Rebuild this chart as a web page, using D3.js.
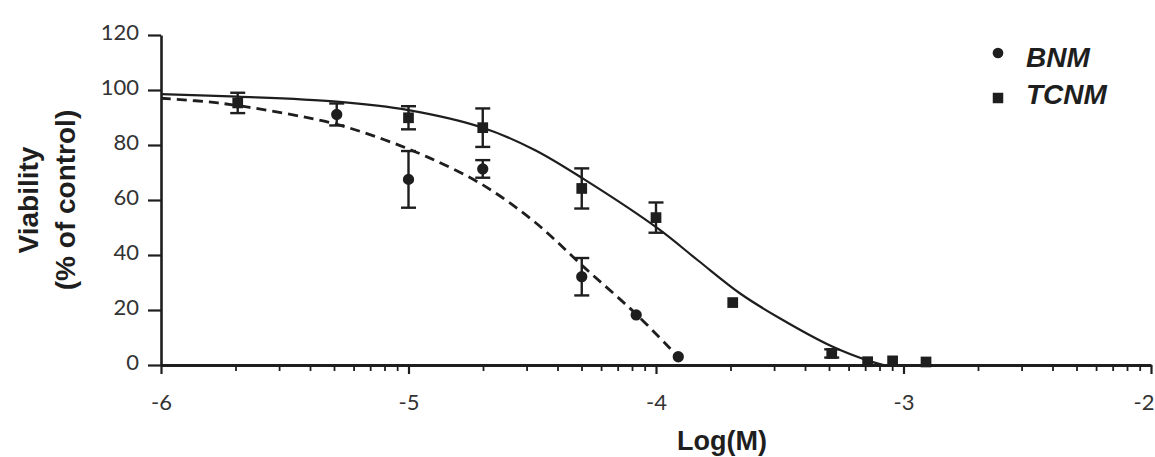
<!DOCTYPE html>
<html>
<head>
<meta charset="utf-8">
<script src="https://cdn.jsdelivr.net/npm/d3@7"></script>
<style>
  html, body { margin: 0; padding: 0; background: #fff; }
  svg { display: block; }
</style>
</head>
<body>
<svg id="chart" width="1155" height="457"></svg>
<script>
// Dose–response data: log molar concentration vs. viability (% of control), mean ± SEM
const bnmLogM  = [-5.29, -5.0, -4.7, -4.3, -4.08, -3.91];
const bnmMean  = [91.1, 67.5, 71.3, 32.1, 18.2, 3.0];
const bnmSem   = [4.0, 10.3, 3.2, 6.8, 0, 0];

const tcnmLogM = [-5.69, -5.0, -4.7, -4.3, -4.0, -3.69, -3.29, -3.145, -3.044, -2.909];
const tcnmMean = [95.3, 89.9, 86.3, 64.2, 53.6, 22.7, 4.2, 1.2, 1.5, 1.1];
const tcnmSem  = [3.7, 4.2, 7.0, 7.3, 5.5, 0, 1.5, 0, 0, 0];

// Fitted dose–response curves (sampled)
const bnmFitX  = [-6.0, -5.77, -5.5, -5.29, -5.1, -4.92, -4.7, -4.49, -4.29, -4.08, -3.91, -3.88];
const bnmFitY  = [97.0, 95.3, 91.5, 87.5, 82.0, 75.5, 65.5, 52.0, 35.5, 18.5, 3.0, 0.5];
const tcnmFitX = [-6.0, -5.69, -5.29, -5.0, -4.7, -4.49, -4.29, -3.99, -3.83, -3.66, -3.5, -3.29, -3.14, -3.08];
const tcnmFitY = [98.5, 97.6, 95.8, 92.7, 86.3, 78.2, 67.5, 49.5, 38.0, 26.0, 17.0, 6.8, 1.5, 0.0];

const xTicks = [-6, -5, -4, -3, -2];
const yTicks = [0, 20, 40, 60, 80, 100, 120];
const seriesNames = ["BNM", "TCNM"];

const svg = d3.select("#chart");
const ink = "#1e1e1e";

const x = d3.scaleLinear().domain([-6, -2]).range([161, 1151]);
const y = d3.scaleLinear().domain([0, 120]).range([365, 35]);

// Minor ticks at log10(k), k = 2..9 within each decade
const minorTicks = [];
for (let d = -6; d < -2; d++) {
  for (let k = 2; k <= 9; k++) minorTicks.push(d + Math.log10(k));
}

// Y axis
const yAxis = svg.append("g")
  .attr("transform", `translate(${x(-6)},0)`)
  .call(d3.axisLeft(y).tickValues(yTicks).tickSize(13).tickSizeOuter(0).tickPadding(9)
        .tickFormat(d => String(d)));
yAxis.select(".domain").attr("stroke", ink).attr("stroke-width", 2.6);
yAxis.selectAll(".tick line").attr("stroke", ink).attr("stroke-width", 2.2);
yAxis.selectAll(".tick text")
  .attr("fill", "#333").attr("font-family", "Lato, 'Open Sans', sans-serif")
  .attr("font-size", 22).attr("dy", "0.22em");

// X axis minor ticks
const xMinor = svg.append("g")
  .attr("transform", `translate(0,${y(0)})`)
  .call(d3.axisBottom(x).tickValues(minorTicks).tickSize(6).tickSizeOuter(0).tickFormat(""));
xMinor.select(".domain").remove();
xMinor.selectAll(".tick line").attr("stroke", ink).attr("stroke-width", 1.8);

// X axis major ticks and labels
const xAxis = svg.append("g")
  .attr("transform", `translate(0,${y(0)})`)
  .call(d3.axisBottom(x).tickValues(xTicks).tickSize(9).tickSizeOuter(0).tickPadding(20)
        .tickFormat(d => String(d)));
xAxis.select(".domain").attr("stroke", ink).attr("stroke-width", 3);
xAxis.selectAll(".tick line").attr("stroke", ink).attr("stroke-width", 2.2);
xAxis.selectAll(".tick text")
  .attr("fill", "#333").attr("font-family", "Lato, 'Open Sans', sans-serif")
  .attr("font-size", 22);
// keep the last label inside the drawing area
xAxis.selectAll(".tick text").filter(d => d === -2)
  .attr("text-anchor", "end").attr("x", 3);

// Axis titles
svg.append("text")
  .attr("transform", `translate(${x(-4) + 66},450)`)
  .attr("text-anchor", "middle")
  .attr("font-family", "'Liberation Sans', Arial, sans-serif")
  .attr("font-weight", "bold").attr("font-size", 27).attr("fill", ink)
  .text("Log(M)");

const yTitle = svg.append("text")
  .attr("transform", "translate(0,200) rotate(-90)")
  .attr("text-anchor", "middle")
  .attr("font-family", "'Liberation Sans', Arial, sans-serif")
  .attr("font-weight", "bold").attr("font-size", 28).attr("fill", ink);
yTitle.append("tspan").attr("x", 0).attr("y", 38).text("Viability");
yTitle.append("tspan").attr("x", 0).attr("y", 75).text("(% of control)");

// Fitted curves
const line = d3.line().x(d => x(d[0])).y(d => y(d[1])).curve(d3.curveCatmullRom.alpha(0.5));

svg.append("path")
  .datum(d3.zip(tcnmFitX, tcnmFitY))
  .attr("d", line)
  .attr("fill", "none").attr("stroke", ink).attr("stroke-width", 2.2);

svg.append("path")
  .datum(d3.zip(bnmFitX, bnmFitY))
  .attr("d", line)
  .attr("fill", "none").attr("stroke", ink).attr("stroke-width", 2.8)
  .attr("stroke-dasharray", "10,6");

// Error bars and markers
function drawSeries(xs, means, sems, shape) {
  const data = xs.map((v, i) => ({ x: v, m: means[i], s: sems[i] }));
  const g = svg.append("g");
  const eb = g.selectAll(".eb").data(data.filter(d => d.s > 0)).enter().append("g")
    .attr("stroke", ink).attr("stroke-width", 2.4);
  eb.append("line")
    .attr("x1", d => x(d.x)).attr("x2", d => x(d.x))
    .attr("y1", d => y(d.m + d.s)).attr("y2", d => y(d.m - d.s));
  eb.append("line")
    .attr("x1", d => x(d.x) - 7.5).attr("x2", d => x(d.x) + 7.5)
    .attr("y1", d => y(d.m + d.s)).attr("y2", d => y(d.m + d.s));
  eb.append("line")
    .attr("x1", d => x(d.x) - 7.5).attr("x2", d => x(d.x) + 7.5)
    .attr("y1", d => y(d.m - d.s)).attr("y2", d => y(d.m - d.s));

  const sym = d3.symbol().type(shape === "circle" ? d3.symbolCircle : d3.symbolSquare)
    .size(shape === "circle" ? 100 : 115);
  g.selectAll(".pt").data(data).enter().append("path")
    .attr("transform", d => `translate(${x(d.x)},${y(d.m)})`)
    .attr("d", sym)
    .attr("fill", ink);
}
drawSeries(bnmLogM, bnmMean, bnmSem, "circle");
drawSeries(tcnmLogM, tcnmMean, tcnmSem, "square");

// Legend
const legend = svg.append("g");
const legendRows = [
  { name: seriesNames[0], shape: d3.symbolCircle, size: 90, my: 53, ty: 67 },
  { name: seriesNames[1], shape: d3.symbolSquare, size: 110, my: 98, ty: 104 }
];
legendRows.forEach(r => {
  legend.append("path")
    .attr("transform", `translate(998,${r.my})`)
    .attr("d", d3.symbol().type(r.shape).size(r.size))
    .attr("fill", ink);
  legend.append("text")
    .attr("x", 1026).attr("y", r.ty)
    .attr("font-family", "'Liberation Sans', Arial, sans-serif")
    .attr("font-weight", "bold").attr("font-style", "italic")
    .attr("font-size", 28).attr("fill", ink)
    .text(r.name);
});
</script>
</body>
</html>
